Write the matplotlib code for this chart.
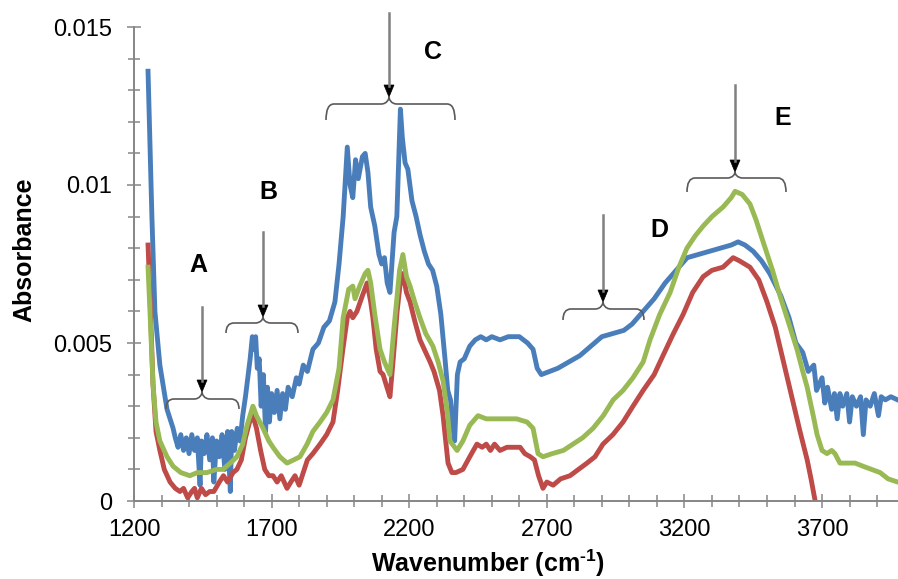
import matplotlib
matplotlib.use("Agg")
import matplotlib.pyplot as plt
from matplotlib.path import Path
from matplotlib.patches import PathPatch, Polygon
from matplotlib.lines import Line2D
from matplotlib.ticker import MultipleLocator, FixedLocator, FuncFormatter

plt.rcParams['font.family'] = ['Liberation Sans', 'DejaVu Sans']
plt.rcParams['mathtext.fontset'] = 'custom'
plt.rcParams['mathtext.rm'] = 'Liberation Sans:bold'
plt.rcParams['mathtext.bf'] = 'Liberation Sans:bold'

# ---------------- data ----------------
blue_wn = [1251, 1265, 1276, 1294, 1320, 1342, 1350, 1360, 1370, 1380, 1390, 1400, 1410, 1420,
           1430, 1440, 1445, 1455, 1465, 1475, 1485, 1490, 1500, 1510, 1520, 1530, 1540, 1550,
           1555, 1565, 1575, 1585, 1595, 1605, 1615, 1622, 1630, 1636, 1642, 1648, 1655, 1662,
           1670, 1678, 1685, 1692, 1700, 1710, 1720, 1730, 1740, 1750, 1760, 1775, 1790, 1800,
           1815, 1830, 1850, 1870, 1890, 1910, 1930, 1945, 1960, 1975, 1985, 1995, 2005, 2015,
           2030, 2040, 2050, 2060, 2075, 2090, 2100, 2110, 2120, 2130, 2145, 2155, 2168, 2175,
           2185, 2195, 2210, 2225, 2240, 2255, 2270, 2285, 2300, 2315, 2330, 2340, 2350, 2358,
           2365, 2375, 2385, 2400, 2420, 2440, 2460, 2480, 2500, 2530, 2560, 2600, 2630, 2650,
           2665, 2680, 2710, 2740, 2780, 2820, 2860, 2900, 2940, 2980, 3010, 3050, 3090, 3130,
           3170, 3210, 3250, 3290, 3330, 3370, 3395, 3420, 3450, 3480, 3510, 3550, 3580, 3605,
           3630, 3650, 3670, 3680, 3700, 3710, 3720, 3735, 3745, 3755, 3765, 3775, 3790, 3800,
           3810, 3825, 3840, 3850, 3860, 3875, 3890, 3905, 3915, 3930, 3950, 3975]
blue_abs = [0.0136, 0.0090, 0.0060, 0.0043, 0.0029, 0.0023, 0.0020, 0.0017, 0.0021, 0.0016,
            0.0020, 0.0015, 0.0021, 0.0016, 0.0020, 0.0005, 0.0019, 0.0015, 0.0021, 0.0013,
            0.0020, 0.0006, 0.0019, 0.0014, 0.0021, 0.0010, 0.0022, 0.0003, 0.0022, 0.0016,
            0.0023, 0.0019, 0.0027, 0.0033, 0.0040, 0.0045, 0.0052, 0.0048, 0.0052, 0.0042,
            0.0045, 0.0030, 0.0040, 0.0022, 0.0036, 0.0025, 0.0034, 0.0028, 0.0035, 0.0026,
            0.0034, 0.0029, 0.0036, 0.0033, 0.0039, 0.0037, 0.0043, 0.0041, 0.0048, 0.0050,
            0.0055, 0.0057, 0.0063, 0.0075, 0.0090, 0.0112, 0.0100, 0.0096, 0.0108, 0.0102,
            0.0109, 0.0110, 0.0104, 0.0093, 0.0087, 0.0078, 0.0075, 0.0077, 0.0069, 0.0066,
            0.0085, 0.0090, 0.0124, 0.0115, 0.0107, 0.0105, 0.0095, 0.0090, 0.0084, 0.0079,
            0.0075, 0.0073, 0.0068, 0.0059, 0.0045, 0.0035, 0.0032, 0.0024, 0.0019, 0.0040,
            0.0044, 0.0045, 0.0049, 0.0051, 0.0052, 0.0051, 0.0052, 0.0051, 0.0052, 0.0052,
            0.0050, 0.0048, 0.0042, 0.0040, 0.0041, 0.0042, 0.0044, 0.0046, 0.0049, 0.0052,
            0.0053, 0.0054, 0.0056, 0.0060, 0.0064, 0.0069, 0.0073, 0.0077, 0.0078, 0.0079,
            0.0080, 0.0081, 0.0082, 0.0081, 0.0079, 0.0076, 0.0072, 0.0065, 0.0058, 0.0050,
            0.0047, 0.0041, 0.0043, 0.0035, 0.0039, 0.0031, 0.0036, 0.0029, 0.0034, 0.0026,
            0.0034, 0.0030, 0.0034, 0.0025, 0.0033, 0.0030, 0.0033, 0.0021, 0.0032, 0.0030,
            0.0034, 0.0027, 0.0033, 0.0032, 0.0033, 0.0032]

red_wn = [1251, 1258, 1269, 1280, 1294, 1310, 1331, 1350, 1367, 1380, 1395, 1410, 1420, 1430,
          1445, 1460, 1475, 1490, 1510, 1525, 1540, 1560, 1574, 1590, 1605, 1620, 1632, 1645,
          1660, 1675, 1690, 1705, 1720, 1735, 1756, 1770, 1785, 1800, 1815, 1830, 1850, 1876,
          1900, 1923, 1940, 1959, 1975, 1985, 1995, 2010, 2030, 2047, 2060, 2068, 2080, 2094,
          2105, 2119, 2130, 2142, 2156, 2170, 2177, 2190, 2203, 2220, 2239, 2260, 2276, 2290,
          2310, 2323, 2335, 2341, 2355, 2370, 2395, 2420, 2446, 2465, 2480, 2495, 2510, 2530,
          2555, 2580, 2603, 2620, 2640, 2655, 2670, 2686, 2700, 2723, 2750, 2784, 2815, 2846,
          2875, 2904, 2940, 2977, 3013, 3050, 3090, 3122, 3160, 3195, 3230, 3268, 3300, 3340,
          3377, 3400, 3438, 3470, 3500, 3530, 3560, 3590, 3620, 3646, 3660, 3675]
red_abs = [0.0081, 0.0065, 0.0037, 0.0022, 0.0016, 0.0010, 0.0006, 0.0004, 0.0003, 0.0004,
           0.0001, 0.0003, 0.0004, 0.0001, 0.0004, 0.0002, 0.0003, 0.0003, 0.0006, 0.0008,
           0.0006, 0.0009, 0.0010, 0.0013, 0.0020, 0.0025, 0.0027, 0.0023, 0.0016, 0.0010,
           0.0008, 0.0008, 0.0006, 0.0008, 0.0004, 0.0006, 0.0008, 0.0005, 0.0009, 0.0013,
           0.0015, 0.0018, 0.0021, 0.0025, 0.0035, 0.0048, 0.0058, 0.0060, 0.0058, 0.0060,
           0.0065, 0.0069, 0.0063, 0.0058, 0.0048, 0.0041, 0.0040, 0.0036, 0.0033, 0.0045,
           0.0060, 0.0071, 0.0072, 0.0066, 0.0063, 0.0057, 0.0051, 0.0047, 0.0044, 0.0041,
           0.0035, 0.0027, 0.0017, 0.0012, 0.0009, 0.0009, 0.0010, 0.0014, 0.0018, 0.0017,
           0.0018, 0.0016, 0.0018, 0.0016, 0.0017, 0.0017, 0.0017, 0.0015, 0.0014, 0.0013,
           0.0008, 0.0004, 0.0006, 0.0005, 0.0007, 0.0008, 0.0010, 0.0012, 0.0014, 0.0018,
           0.0021, 0.0025, 0.0030, 0.0035, 0.0040, 0.0046, 0.0053, 0.0059, 0.0066, 0.0071,
           0.0073, 0.0074, 0.0077, 0.0076, 0.0074, 0.0070, 0.0063, 0.0055, 0.0044, 0.0033,
           0.0022, 0.0013, 0.0007, 0.0000]

green_wn = [1251, 1258, 1269, 1280, 1294, 1320, 1342, 1370, 1403, 1430, 1465, 1500, 1523, 1550,
            1574, 1595, 1611, 1625, 1632, 1645, 1669, 1690, 1705, 1730, 1756, 1780, 1803, 1829,
            1850, 1876, 1900, 1923, 1945, 1960, 1980, 1995, 2003, 2020, 2040, 2050, 2060, 2075,
            2094, 2110, 2130, 2145, 2165, 2177, 2190, 2203, 2220, 2239, 2260, 2286, 2305, 2323,
            2340, 2348, 2374, 2395, 2420, 2450, 2480, 2510, 2550, 2590, 2628, 2650, 2668, 2686,
            2720, 2760, 2795, 2830, 2868, 2905, 2941, 2977, 3013, 3050, 3075, 3110, 3148, 3180,
            3209, 3240, 3268, 3300, 3340, 3370, 3384, 3410, 3438, 3460, 3486, 3520, 3547, 3580,
            3609, 3630, 3646, 3668, 3682, 3700, 3718, 3735, 3747, 3765, 3790, 3820, 3849, 3880,
            3911, 3940, 3975]
green_abs = [0.0074, 0.0060, 0.0037, 0.0025, 0.0019, 0.0014, 0.0011, 0.0009, 0.0008, 0.0009,
             0.0009, 0.0010, 0.0010, 0.0012, 0.0014, 0.0018, 0.0024, 0.0028, 0.0030, 0.0027,
             0.0023, 0.0019, 0.0017, 0.0014, 0.0012, 0.0013, 0.0014, 0.0018, 0.0022, 0.0025,
             0.0028, 0.0032, 0.0042, 0.0058, 0.0067, 0.0068, 0.0064, 0.0068, 0.0072, 0.0073,
             0.0069, 0.0059, 0.0048, 0.0044, 0.0040, 0.0055, 0.0073, 0.0078, 0.0071, 0.0068,
             0.0063, 0.0058, 0.0053, 0.0049, 0.0044, 0.0038, 0.0027, 0.0019, 0.0016, 0.0019,
             0.0024, 0.0027, 0.0026, 0.0026, 0.0026, 0.0026, 0.0025, 0.0023, 0.0015, 0.0014,
             0.0015, 0.0016, 0.0018, 0.0020, 0.0023, 0.0027, 0.0032, 0.0035, 0.0039, 0.0044,
             0.0051, 0.0059, 0.0066, 0.0074, 0.0080, 0.0084, 0.0087, 0.0090, 0.0093, 0.0096,
             0.0098, 0.0097, 0.0094, 0.0089, 0.0082, 0.0073, 0.0065, 0.0056, 0.0048, 0.0041,
             0.0036, 0.0027, 0.0021, 0.0016, 0.0015, 0.0016, 0.0015, 0.0012, 0.0012, 0.0012,
             0.0011, 0.0010, 0.0009, 0.0007, 0.0006]

x_ticks = [1200, 1700, 2200, 2700, 3200, 3700]
y_ticks = [0, 0.005, 0.01, 0.015]
band_labels = ['A', 'B', 'C', 'D', 'E']

# ---------------- figure ----------------
W, H = 898, 579
fig = plt.figure(figsize=(W / 100, H / 100), dpi=100)
ax = fig.add_axes([134 / W, 78 / H, (W - 134) / W, (501 - 27) / H])

lw = 3.5
ax.plot(blue_wn, blue_abs, color='#4A7EBB', lw=lw, solid_joinstyle='round')
ax.plot(red_wn, red_abs, color='#BE4B48', lw=lw, solid_joinstyle='round')
ax.plot(green_wn, green_abs, color='#98B954', lw=lw, solid_joinstyle='round')

ax.set_xlim(1200, 3976)
ax.set_ylim(0, 0.015)

axis_col = '#868686'
for s in ['top', 'right']:
    ax.spines[s].set_visible(False)
for s in ['left', 'bottom']:
    ax.spines[s].set_color(axis_col)
    ax.spines[s].set_linewidth(1.4)

ax.xaxis.set_major_locator(FixedLocator(x_ticks))
ax.xaxis.set_minor_locator(MultipleLocator(100))
ax.yaxis.set_major_locator(FixedLocator(y_ticks))
ax.yaxis.set_minor_locator(MultipleLocator(0.001))
ax.yaxis.set_major_formatter(FuncFormatter(lambda v, p: '%g' % round(v, 4)))
ax.xaxis.set_major_formatter(FuncFormatter(lambda v, p: '%d' % v))

ax.tick_params(which='both', direction='inout', color=axis_col, width=1.1)
ax.tick_params(which='major', length=9.5, labelsize=17)
ax.tick_params(which='minor', length=8)
ax.tick_params(axis='y', which='major', pad=11)
ax.tick_params(axis='x', which='major', pad=8)
for lab in ax.get_xticklabels() + ax.get_yticklabels():
    lab.set_clip_on(False)

fig.text(24 / W, 1 - 250 / H, 'Absorbance', rotation=90, ha='center', va='center',
         fontsize=18, fontweight='bold')
fig.text(488 / W, 1 - 563 / H, r'Wavenumber (cm$^{\text{-}1}$)', ha='center', va='center',
         fontsize=18, fontweight='bold')

# ---------------- annotations (pixel positions) ----------------
def fx(px):
    return px / W

def fy(py):
    return 1 - py / H

def brace(x0, x1, xm, yh, yend, ypk):
    r = 8
    verts = [(x0, yend), (x0, yh), (x0 + r, yh),
             (xm - r, yh),
             (xm - 2, yh), (xm, ypk + 2), (xm, ypk),
             (xm, ypk + 2), (xm + 2, yh), (xm + r, yh),
             (x1 - r, yh),
             (x1, yh), (x1, yend)]
    codes = [Path.MOVETO, Path.CURVE3, Path.CURVE3,
             Path.LINETO,
             Path.CURVE4, Path.CURVE4, Path.CURVE4,
             Path.CURVE4, Path.CURVE4, Path.CURVE4,
             Path.LINETO,
             Path.CURVE3, Path.CURVE3]
    verts = [(fx(a), fy(b)) for a, b in verts]
    p = PathPatch(Path(verts, codes), transform=fig.transFigure, fill=False,
                  edgecolor='#5a5a5a', lw=1.2)
    fig.add_artist(p)

def arrow(x, ytop, ytip):
    head = 12
    hw = 5
    fig.add_artist(Line2D([fx(x), fx(x)], [fy(ytop), fy(ytip - head + 1)],
                          transform=fig.transFigure, color='#808080', lw=1.8))
    fig.add_artist(Polygon([(fx(x - hw), fy(ytip - head)), (fx(x + hw), fy(ytip - head)),
                            (fx(x), fy(ytip))], closed=True, transform=fig.transFigure,
                           facecolor='black', edgecolor='black', lw=0.5))

# (label x, label y, arrow x, arrow top, arrow tip, brace left, brace right, brace y, brace end)
specs = [
    (198, 265, 202, 307, 392, 166, 239, 399, 409),
    (268, 192, 263, 232, 317, 226, 298, 323, 333),
    (433, 52, 389, 13, 97, 326, 455, 104, 120),
    (659, 230, 603, 215, 302, 563, 644, 309, 320),
    (783, 118, 735, 85, 172, 687, 786, 178, 192),
]
for lab, (lx, ly, axx, at, tip, b0, b1, by, be) in zip(band_labels, specs):
    arrow(axx, at, tip)
    brace(b0, b1, axx, by, be, tip)
    fig.text(fx(lx), fy(ly), lab, ha='center', va='center', fontsize=18, fontweight='bold')

fig.savefig('out.png', dpi=100)
